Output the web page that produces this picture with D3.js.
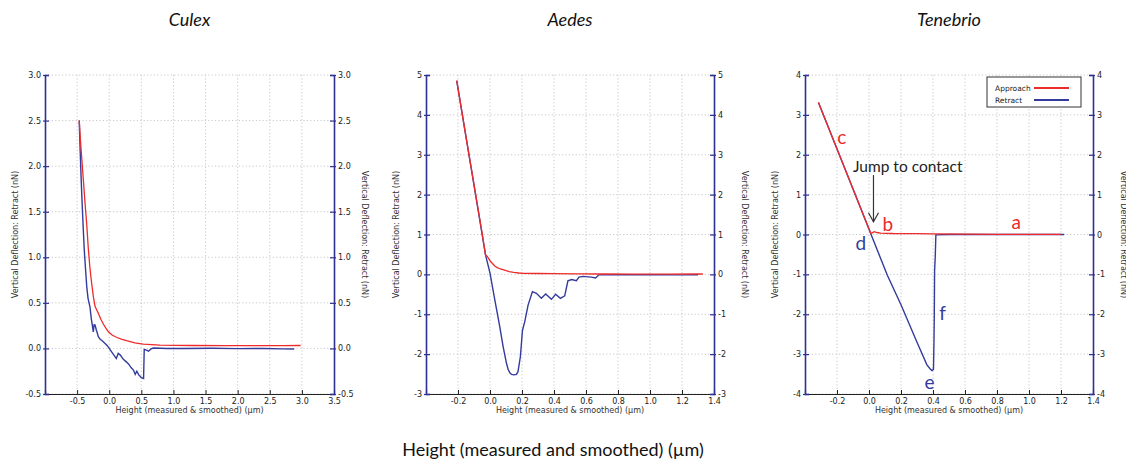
<!DOCTYPE html>
<html>
<head>
<meta charset="utf-8">
<script src="https://cdn.jsdelivr.net/npm/d3@7"></script>
<style>
  body { margin: 0; background: #fff; }
  .tick text { font-family: "DejaVu Sans", sans-serif; font-size: 8px; fill: #222; }
  .ylab, .xlab { font-family: "DejaVu Sans", sans-serif; font-size: 8px; fill: #333; }
  .legend { font-family: "DejaVu Sans", sans-serif; font-size: 7.5px; fill: #222; }
  .title { font-family: Lato, "Open Sans", sans-serif; font-style: italic; font-size: 18px; fill: #111; }
  .note { font-family: Lato, "Open Sans", sans-serif; font-size: 19px; }
</style>
</head>
<body>
<div id="chart"></div>
<script>
// Culex curves [height um, deflection nN]
var culexApproach = [[-0.467, 2.50], [-0.45, 2.30], [-0.426, 2.07], [-0.40, 1.82], [-0.375, 1.58], [-0.35, 1.36],
  [-0.326, 1.10], [-0.30, 0.88], [-0.273, 0.71], [-0.245, 0.56], [-0.22, 0.46], [-0.17, 0.385], [-0.13, 0.32],
  [-0.09, 0.265], [-0.05, 0.22], [-0.01, 0.18], [0.05, 0.145], [0.12, 0.12], [0.20, 0.10], [0.27, 0.085],
  [0.40, 0.062], [0.53, 0.048], [0.79, 0.037], [1.3, 0.032], [1.8, 0.03], [2.35, 0.03], [2.7, 0.03], [2.98, 0.032]];
var culexRetract = [[-0.467, 2.50], [-0.455, 2.22], [-0.44, 1.92], [-0.426, 1.66], [-0.41, 1.40], [-0.39, 1.10],
  [-0.37, 0.88], [-0.35, 0.68], [-0.33, 0.55], [-0.30, 0.457], [-0.28, 0.33], [-0.26, 0.24], [-0.248, 0.18],
  [-0.235, 0.26], [-0.22, 0.256], [-0.20, 0.20], [-0.19, 0.18], [-0.17, 0.13], [-0.14, 0.10], [-0.11, 0.085],
  [-0.065, 0.055], [-0.03, 0.03], [0.0, 0.0], [0.04, -0.04], [0.09, -0.09], [0.11, -0.11], [0.14, -0.055],
  [0.17, -0.07], [0.22, -0.12], [0.27, -0.15], [0.30, -0.17], [0.34, -0.21], [0.38, -0.24], [0.405, -0.285],
  [0.43, -0.25], [0.46, -0.29], [0.50, -0.32], [0.535, -0.33], [0.545, -0.01], [0.57, -0.015], [0.613, -0.03],
  [0.65, -0.005], [0.69, 0.005], [0.9, 0.0], [1.2, 0.0], [1.6, 0.002], [2.0, -0.002], [2.4, 0.0], [2.7, -0.005],
  [2.88, -0.006]];

// Aedes curves
var aedesApproach = [[-0.208, 4.86], [-0.15, 3.45], [-0.10, 2.25], [-0.05, 1.05], [-0.028, 0.49], [-0.015, 0.44],
  [0.0, 0.34], [0.014, 0.28], [0.03, 0.21], [0.045, 0.17], [0.065, 0.135], [0.087, 0.11], [0.12, 0.07],
  [0.149, 0.05], [0.18, 0.035], [0.21, 0.027], [0.3, 0.022], [0.4, 0.02], [0.55, 0.015], [0.7, 0.01],
  [0.9, 0.008], [1.1, 0.008], [1.33, 0.01]];
var aedesRetract = [[-0.208, 4.86], [-0.15, 3.45], [-0.10, 2.24], [-0.05, 1.02], [-0.028, 0.49], [0.0, 0.03],
  [0.03, -0.64], [0.061, -1.31], [0.082, -1.81], [0.103, -2.23], [0.113, -2.38], [0.124, -2.47], [0.135, -2.51],
  [0.149, -2.52], [0.165, -2.51], [0.175, -2.44], [0.19, -2.06], [0.203, -1.40], [0.217, -1.19], [0.238, -0.77],
  [0.265, -0.435], [0.29, -0.475], [0.321, -0.60], [0.348, -0.49], [0.384, -0.626], [0.41, -0.50], [0.44, -0.60],
  [0.467, -0.54], [0.487, -0.16], [0.51, -0.13], [0.54, -0.16], [0.556, -0.07], [0.58, -0.05], [0.633, -0.07],
  [0.66, -0.09], [0.68, -0.012], [0.8, -0.01], [1.0, -0.01], [1.2, -0.012], [1.3, -0.01]];

// Tenebrio curves
var tenebrioApproach = [[-0.316, 3.31], [0.011, 0.03], [0.02, 0.04], [0.032, 0.07], [0.05, 0.05], [0.073, 0.035],
  [0.15, 0.025], [0.3, 0.02], [0.4, 0.015], [0.6, 0.01], [0.8, 0.005], [1.0, 0.005], [1.2, 0.003]];
var tenebrioRetract = [[-0.316, 3.31], [-0.1, 1.14], [0.0, 0.13], [0.114, -1.016], [0.2, -1.76], [0.3, -2.70],
  [0.362, -3.27], [0.38, -3.36], [0.393, -3.41], [0.403, -3.38], [0.406, -2.7], [0.408, -2.06], [0.41, -0.9],
  [0.414, -0.56], [0.418, -0.01], [0.5, 0.0], [0.8, 0.0], [1.0, 0.0], [1.22, 0.0]];

// tick labels
var culexXTicks = [-0.5, 0, 0.5, 1, 1.5, 2, 2.5, 3, 3.5];
var culexYTicks = [-0.5, 0, 0.5, 1, 1.5, 2, 2.5, 3];
var smallXTicks = [-0.2, 0, 0.2, 0.4, 0.6, 0.8, 1, 1.2, 1.4];
var aedesYTicks = [-3, -2, -1, 0, 1, 2, 3, 4, 5];
var tenebrioYTicks = [-4, -3, -2, -1, 0, 1, 2, 3, 4];

var titles = ["Culex", "Aedes", "Tenebrio"];
var legendLabels = ["Approach", "Retract"];

// Tenebrio annotations [label, x, y, series]
var letterNotes = [["c", -0.17, 2.44, 0], ["b", 0.118, 0.26, 0], ["a", 0.92, 0.30, 0],
  ["d", -0.051, -0.22, 1], ["e", 0.379, -3.72, 1], ["f", 0.46, -1.98, 1]];

var width = 1126, height = 460;
var red = "#ee2a2a", blue = "#333b9d", axisBlue = "#2e3192";

var svg = d3.select("#chart").append("svg")
  .attr("width", width)
  .attr("height", height);

var panels = [
  { left: 45, right: 334, xd: [-1, 3.5], yd: [-0.5, 3], xt: culexXTicks, yt: culexYTicks, fy: 1,
    approach: culexApproach, retract: culexRetract },
  { left: 426, right: 714, xd: [-0.4, 1.4], yd: [-3, 5], xt: smallXTicks, yt: aedesYTicks, fy: 0,
    approach: aedesApproach, retract: aedesRetract },
  { left: 805, right: 1093, xd: [-0.4, 1.4], yd: [-4, 4], xt: smallXTicks, yt: tenebrioYTicks, fy: 0,
    approach: tenebrioApproach, retract: tenebrioRetract }
];
var plotTop = 75, plotBottom = 394;

function fmt(digits) {
  return function(d) { return d.toFixed(digits).replace("\u2212", "-"); };
}

panels.forEach(function(p, i) {
  var x = d3.scaleLinear().domain(p.xd).range([p.left, p.right]);
  var y = d3.scaleLinear().domain(p.yd).range([plotBottom, plotTop]);
  var g = svg.append("g");

  // dotted grid
  g.selectAll(".vg").data(p.xt.filter(function(d) { return d < p.xd[1]; }))
    .enter().append("line")
    .attr("x1", function(d) { return x(d); }).attr("x2", function(d) { return x(d); })
    .attr("y1", plotTop).attr("y2", plotBottom)
    .attr("stroke", "#c8c8c8").attr("stroke-dasharray", "1.2,2.2");
  g.selectAll(".hg").data(p.yt)
    .enter().append("line")
    .attr("x1", p.left).attr("x2", p.right)
    .attr("y1", function(d) { return y(d); }).attr("y2", function(d) { return y(d); })
    .attr("stroke", "#c8c8c8").attr("stroke-dasharray", "1.2,2.2");

  // axes
  var bx = g.append("g").attr("transform", "translate(0," + plotBottom + ")")
    .call(d3.axisBottom(x).tickValues(p.xt).tickFormat(fmt(1)).tickSize(-4).tickPadding(4));
  bx.select(".domain").attr("stroke", "#222").attr("stroke-width", 1.2);
  bx.selectAll(".tick line").attr("stroke", "#222");

  var ly = g.append("g").attr("transform", "translate(" + p.left + ",0)")
    .call(d3.axisLeft(y).tickValues(p.yt).tickFormat(fmt(p.fy)).tickSize(-4).tickPadding(4));
  var ry = g.append("g").attr("transform", "translate(" + p.right + ",0)")
    .call(d3.axisRight(y).tickValues(p.yt).tickFormat(fmt(p.fy)).tickSize(-4).tickPadding(4));
  [ly, ry].forEach(function(a, k) {
    a.select(".domain").attr("stroke", axisBlue).attr("stroke-width", 1.6);
    a.selectAll(".tick line").attr("stroke", axisBlue).attr("stroke-width", 1.2)
      .attr("x1", k === 0 ? -2 : 2);
  });

  // axis titles
  var cy = (plotTop + plotBottom) / 2;
  g.append("text").attr("class", "ylab")
    .attr("transform", "translate(" + (p.left - 30) + "," + cy + ") rotate(-90)")
    .attr("text-anchor", "middle").attr("dy", "0.35em")
    .text("Vertical Deflection: Retract (nN)");
  g.append("text").attr("class", "ylab")
    .attr("transform", "translate(" + (p.right + 31) + "," + cy + ") rotate(90)")
    .attr("text-anchor", "middle").attr("dy", "0.35em")
    .text("Vertical Deflection: Retract (nN)");
  g.append("text").attr("class", "xlab")
    .attr("x", (p.left + p.right) / 2).attr("y", 413)
    .attr("text-anchor", "middle")
    .text("Height (measured & smoothed) (\u00b5m)");

  g.append("text").attr("class", "title")
    .attr("x", (p.left + p.right) / 2).attr("y", 26)
    .attr("text-anchor", "middle")
    .text(titles[i]);

  // curves
  var line = d3.line()
    .x(function(d) { return x(d[0]); })
    .y(function(d) { return y(d[1]); });
  g.append("path").datum(p.retract)
    .attr("d", line).attr("fill", "none")
    .attr("stroke", blue).attr("stroke-width", 1.4);
  g.append("path").datum(p.approach)
    .attr("d", line).attr("fill", "none")
    .attr("stroke", red).attr("stroke-width", 1.3);

  if (i === 2) {
    // letters
    g.selectAll(".note").data(letterNotes).enter().append("text")
      .attr("class", "note")
      .attr("x", function(d) { return x(d[1]); })
      .attr("y", function(d) { return y(d[2]); })
      .attr("dy", "0.35em")
      .attr("text-anchor", "middle")
      .attr("fill", function(d) { return d[3] === 0 ? red : blue; })
      .text(function(d) { return d[0]; });

    g.append("text").attr("class", "note")
      .attr("x", x(0.242)).attr("y", y(1.70)).attr("dy", "0.35em")
      .attr("text-anchor", "middle").attr("fill", "#222")
      .style("font-size", "15.5px")
      .text("Jump to contact");

    var ax = x(0.028), ay1 = y(1.49), ay2 = y(0.32);
    g.append("line").attr("x1", ax).attr("x2", ax).attr("y1", ay1).attr("y2", ay2)
      .attr("stroke", "#333").attr("stroke-width", 1.2);
    g.append("path")
      .attr("d", "M" + (ax - 5) + "," + (ay2 - 9) + "L" + ax + "," + ay2 + "L" + (ax + 5) + "," + (ay2 - 9))
      .attr("fill", "none").attr("stroke", "#333").attr("stroke-width", 1.2);

    // legend
    var lg = g.append("g");
    lg.append("rect").attr("x", 987).attr("y", 77).attr("width", 94).attr("height", 30)
      .attr("fill", "#fff").attr("stroke", "#333").attr("stroke-width", 1);
    legendLabels.forEach(function(lab, k) {
      var yy = 88 + k * 12;
      lg.append("text").attr("class", "legend").attr("x", 995).attr("y", yy).attr("dy", "0.35em")
        .text(lab);
      lg.append("line").attr("x1", 1034).attr("x2", 1069).attr("y1", yy).attr("y2", yy)
        .attr("stroke", k === 0 ? red : blue).attr("stroke-width", 1.8);
    });
  }
});

svg.append("text")
  .attr("x", 553).attr("y", 456)
  .attr("text-anchor", "middle")
  .style("font-family", "Lato, 'Open Sans', sans-serif")
  .style("font-size", "18px")
  .attr("fill", "#111")
  .text("Height (measured and smoothed) (\u00b5m)");
</script>
</body>
</html>
